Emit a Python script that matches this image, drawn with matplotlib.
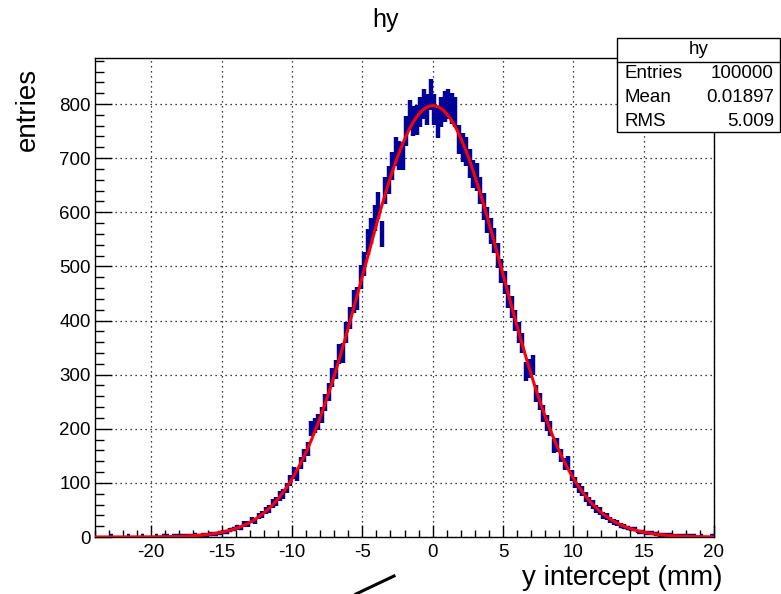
import numpy as np
import matplotlib
matplotlib.use("Agg")
import matplotlib.pyplot as plt
from matplotlib.collections import LineCollection
from matplotlib.lines import Line2D
from matplotlib.patches import Rectangle

plt.rcParams['font.family'] = ['Liberation Sans', 'DejaVu Sans']
plt.rcParams['axes.unicode_minus'] = False

# ---- data ----
bin_low = -24.0
bin_width = 0.25
counts_left = [
    0, 0, 0, 0, 1, 0, 0, 0, 0, 1, 0, 0, 0, 1, 0, 0,      # -24 .. -20
    0, 1, 0, 1,                                          # -20 .. -19
    1, 0, 1, 1,                                          # -19 .. -18
    2, 1, 2, 2,                                          # -18 .. -17
    3, 2, 4, 4,                                          # -17 .. -16
    5, 6, 6, 8,                                          # -16 .. -15
    10, 9, 13, 15,                                       # -15 .. -14
    18, 17, 24, 24,                                      # -14 .. -13
    31, 30, 39, 41,                                      # -13 .. -12
    49, 52, 62, 66,                                      # -12 .. -11
    76, 80, 91, 104,                                     # -11 .. -10
    118, 115, 137, 150,                                  # -10 .. -9
    162, 200, 206, 212,                                  # -9 .. -8
    226, 248, 268, 295,                                  # -8 .. -7
    310, 338, 340, 378,                                  # -7 .. -6
    405, 435, 440, 480,                                  # -6 .. -5
    505, 545, 565, 590,                                  # -5 .. -4
    612, 560, 640, 660,                                  # -4 .. -3
    685, 712, 705, 704,                                  # -3 .. -2
    750, 780, 768, 770,                                  # -2 .. -1
    785, 800, 790, 818,                                  # -1 .. 0
]
counts_right = [
    790, 765, 785, 795,                                  # 0 .. 1
    800, 792, 785, 735,                                  # 1 .. 2
    720, 712, 690, 670,                                  # 2 .. 3
    665, 640, 610, 585,                                  # 3 .. 4
    565, 548, 520, 492,                                  # 4 .. 5
    470, 445, 425, 400,                                  # 5 .. 6
    378, 358, 305, 312,                                  # 6 .. 7
    318, 265, 250, 228,                                  # 7 .. 8
    210, 200, 168, 170,                                  # 8 .. 9
    150, 135, 138, 114,                                  # 9 .. 10
    100, 90, 85, 74,                                     # 10 .. 11
    66, 60, 52, 48,                                      # 11 .. 12
    40, 38, 32, 28,                                      # 12 .. 13
    26, 21, 19, 17,                                      # 13 .. 14
    14, 14, 10, 10,                                      # 14 .. 15
    8, 7, 7, 5,                                          # 15 .. 16
    4, 4, 3, 3,                                          # 16 .. 17
    2, 2, 2, 1,                                          # 17 .. 18
    1, 1, 1, 0,                                          # 18 .. 19
    1, 0, 0, 1,                                          # 19 .. 20
]
counts = np.array(counts_left + counts_right, dtype=float)

fit_const = 797.0
fit_mean = 0.019
fit_sigma = 5.0

stats_title = "hy"
stats_names = ["Entries", "Mean", "RMS"]
stats_values = ["100000", "0.01897", "5.009"]

title = "hy"
xlabel = "y intercept (mm)"
ylabel = "entries"
x_range = (-24, 20)
y_range = (0, 885)

# ---- figure ----
W, H = 781, 594
fig = plt.figure(figsize=(W / 100, H / 100), dpi=100)

def fx(px):
    return px / W

def fy(py):
    return 1 - py / H

ax_l, ax_r, ax_t, ax_b = 95, 714, 58, 537
ax = fig.add_axes([fx(ax_l), fy(ax_b), fx(ax_r) - fx(ax_l), fy(ax_t) - fy(ax_b)])

ax.set_xlim(*x_range)
ax.set_ylim(*y_range)

edges = bin_low + bin_width * np.arange(len(counts) + 1)
centers = 0.5 * (edges[:-1] + edges[1:])

segs = []
for lo, hi, c, v in zip(edges[:-1], edges[1:], centers, counts):
    if v <= 0:
        continue
    e = np.sqrt(v)
    segs.append([(lo, v), (hi, v)])
    segs.append([(c, v - e), (c, v + e)])
lc = LineCollection(segs, colors='#000099', linewidths=3.2, capstyle='butt', zorder=3)
ax.add_collection(lc)

xf = np.linspace(x_range[0], x_range[1], 800)
yf = fit_const * np.exp(-0.5 * ((xf - fit_mean) / fit_sigma) ** 2)
ax.plot(xf, yf, color='#ff0000', lw=2.2, zorder=4)

# ticks / grid
ax.set_xticks(np.arange(-20, 21, 5))
ax.set_xticks(np.arange(-24, 21, 1), minor=True)
ax.set_yticks(np.arange(0, 801, 100))
ax.set_yticks(np.arange(0, 881, 20), minor=True)
ax.tick_params(axis='both', which='both', direction='in', top=False, right=False,
               labelsize=13.5, width=1, color='black')
ax.tick_params(axis='x', which='major', length=9, pad=5)
ax.tick_params(axis='x', which='minor', length=5)
ax.tick_params(axis='y', which='major', length=12, pad=3)
ax.tick_params(axis='y', which='minor', length=6.5)
ax.grid(True, which='major', color='black', linestyle=(0, (1, 3)), linewidth=0.9, zorder=1)
ax.set_axisbelow(True)
for s in ax.spines.values():
    s.set_linewidth(1.0)

# title and axis titles
fig.text(fx(385), fy(20), title, ha='center', va='center', fontsize=18)
fig.text(fx(722), fy(578), xlabel, ha='right', va='center', fontsize=20)
fig.text(fx(28), fy(109), ylabel, ha='center', va='center', rotation=90, fontsize=20)

# stats box
bx0, bx1, by0, by1, bsep = 617, 780, 38, 132, 62
fig.patches.append(Rectangle((fx(bx0), fy(by1)), fx(bx1) - fx(bx0), fy(by0) - fy(by1),
                             transform=fig.transFigure, facecolor='white',
                             edgecolor='black', lw=1.0, zorder=10))
fig.lines.append(Line2D([fx(bx0), fx(bx1)], [fy(bsep), fy(bsep)],
                        transform=fig.transFigure, color='black', lw=1.0, zorder=11))
fig.text(fx((bx0 + bx1) / 2), fy(50), stats_title, ha='center', va='center', fontsize=13.5, zorder=12)
rows_y = [74, 98, 121]
for name, val, ry in zip(stats_names, stats_values, rows_y):
    fig.text(fx(625), fy(ry), name, ha='left', va='center', fontsize=13.5, zorder=12)
    fig.text(fx(774), fy(ry), val, ha='right', va='center', fontsize=13.5, zorder=12)

# stray diagonal stroke at bottom
fig.lines.append(Line2D([fx(356), fx(394)], [fy(594), fy(576)], transform=fig.transFigure,
                        color='black', lw=2.2, zorder=12))

fig.savefig("out.png", dpi=100)
